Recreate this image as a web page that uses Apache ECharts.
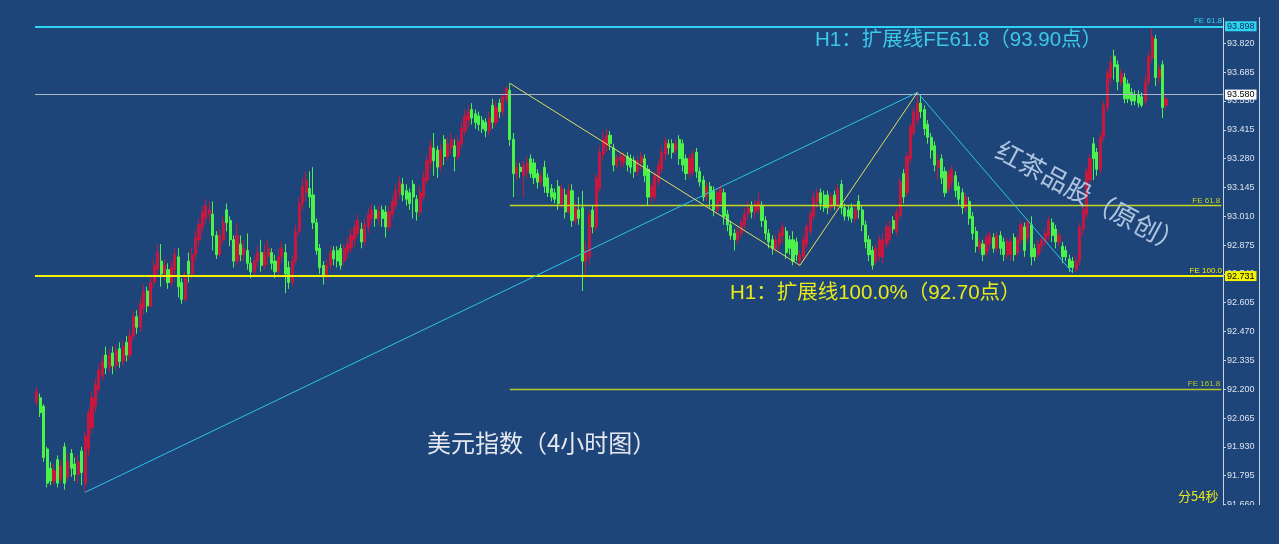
<!DOCTYPE html>
<html><head><meta charset="utf-8">
<script src="https://cdn.jsdelivr.net/npm/echarts@6/dist/echarts.min.js"></script>
<style>html,body{margin:0;padding:0;background:#1e4579;}#c{width:1279px;height:544px;}</style>
</head><body><div id="c"></div>
<script>
// ---- DATA ----
// candles: [open, close, low, high]
const candlesPart1 = [
[92.14,92.19,92.12,92.21],[92.16,92.09,92.07,92.18],[92.12,91.88,91.86,92.13],[91.92,91.76,91.74,91.93],[91.83,91.77,91.75,91.86],
[91.77,91.82,91.75,91.85],[91.87,91.76,91.74,91.89],[91.78,91.84,91.76,91.87],[91.93,91.76,91.73,91.95],[91.79,91.86,91.77,91.90],
[91.90,91.83,91.79,91.92],[91.85,91.80,91.77,91.88],[91.80,91.86,91.76,91.89],[91.91,91.81,91.75,91.93],[91.76,91.98,91.717,92.00],
[91.92,92.09,91.89,92.11],[92.02,92.16,91.99,92.19],[92.12,92.22,92.09,92.25],[92.20,92.29,92.18,92.32],[92.26,92.33,92.24,92.36],
[92.36,92.30,92.27,92.40],[92.30,92.36,92.28,92.39],[92.37,92.31,92.27,92.40],[92.31,92.38,92.29,92.41],[92.39,92.33,92.30,92.42],
[92.33,92.40,92.31,92.43],[92.42,92.36,92.33,92.45],[92.36,92.45,92.34,92.48],[92.45,92.54,92.43,92.57],[92.54,92.49,92.46,92.57],
[92.49,92.60,92.47,92.63],[92.58,92.66,92.55,92.69],[92.66,92.59,92.56,92.68],[92.59,92.70,92.58,92.73],[92.70,92.78,92.67,92.81],
[92.76,92.84,92.73,92.88],[92.80,92.74,92.68,92.88],[92.74,92.78,92.71,92.81],[92.76,92.70,92.67,92.79],[92.70,92.77,92.68,92.80],
[92.76,92.83,92.73,92.86],[92.82,92.68,92.63,92.86],[92.70,92.62,92.60,92.72],[92.62,92.72,92.61,92.75],[92.80,92.74,92.70,92.84],
[92.74,92.83,92.72,92.86],[92.83,92.91,92.80,92.94],[92.90,92.97,92.87,93.00],[92.96,93.03,92.93,93.06],[93.00,93.06,92.97,93.09],
[93.02,93.04,92.98,93.08],[93.02,92.92,92.85,93.08],[92.92,92.83,92.81,92.94],[92.83,92.92,92.82,92.95],[92.90,92.98,92.88,93.01],
[93.04,92.98,92.94,93.07],[92.99,92.90,92.87,93.01],[92.90,92.80,92.77,92.92],[92.80,92.92,92.78,92.98],[92.88,92.83,92.80,92.92],
[92.83,92.86,92.80,92.90],[92.85,92.79,92.76,92.93],[92.79,92.75,92.72,92.82],[92.75,92.80,92.73,92.83],[92.80,92.84,92.77,92.87],
[92.84,92.78,92.75,92.90],[92.78,92.84,92.76,92.88],[92.82,92.86,92.78,92.90],[92.84,92.79,92.76,92.86],[92.80,92.75,92.72,92.83],
[92.75,92.82,92.73,92.86],[92.82,92.86,92.79,92.89],[92.84,92.74,92.65,92.88],[92.77,92.70,92.67,92.80],[92.70,92.80,92.68,92.83],
[92.80,92.94,92.78,92.97],[92.94,93.07,92.92,93.10],[93.07,93.15,93.04,93.19],[93.12,93.18,93.08,93.22],[93.14,93.10,93.05,93.22],
[93.11,92.98,92.95,93.24],[92.98,92.85,92.83,93.00],[92.86,92.77,92.74,92.88],[92.78,92.73,92.69,92.80]
];
const candlesPart2 = [
[92.73,92.78,92.71,92.81],[92.78,92.84,92.76,92.87],[92.85,92.81,92.78,92.87],[92.85,92.80,92.77,92.87],[92.86,92.78,92.76,92.88],
[92.80,92.86,92.78,92.88],[92.84,92.88,92.81,92.91],[92.86,92.92,92.84,92.95],[92.90,92.96,92.87,92.99],[92.93,92.99,92.91,93.02],
[92.95,92.89,92.86,92.98],[92.89,92.97,92.87,93.00],[92.96,93.02,92.93,93.05],[93.00,93.04,92.97,93.07],[93.04,93.00,92.96,93.06],
[93.00,93.03,92.97,93.06],[93.04,93.00,92.96,93.06],[93.03,92.96,92.91,93.06],[92.96,93.03,92.94,93.06],[93.02,93.08,93.00,93.11],
[93.06,93.13,93.04,93.16],[93.12,93.17,93.09,93.20],[93.16,93.11,93.08,93.19],[93.13,93.09,93.06,93.16],[93.12,93.07,93.04,93.14],
[93.16,93.10,93.00,93.18],[93.09,93.03,92.99,93.11],[93.03,93.12,93.01,93.15],[93.10,93.19,93.08,93.22],[93.18,93.27,93.16,93.30],
[93.26,93.34,93.23,93.37],[93.33,93.27,93.20,93.40],[93.32,93.24,93.19,93.34],[93.24,93.32,93.22,93.35],[93.37,93.29,93.25,93.39],
[93.29,93.35,93.27,93.38],[93.33,93.37,93.30,93.40],[93.34,93.29,93.22,93.37],[93.29,93.36,93.27,93.39],[93.35,93.42,93.33,93.45],
[93.41,93.48,93.39,93.51],[93.46,93.50,93.43,93.53],[93.51,93.47,93.44,93.54],[93.49,93.45,93.42,93.51],[93.48,93.44,93.41,93.50],
[93.46,93.42,93.40,93.48],[93.45,93.41,93.38,93.47],[93.41,93.47,93.39,93.50],[93.53,93.45,93.42,93.56],[93.45,93.52,93.43,93.55],
[93.54,93.50,93.47,93.56],[93.50,93.57,93.48,93.59],[93.56,93.61,93.54,93.62],[93.60,93.37,93.34,93.633],[93.37,93.21,93.10,93.40],
[93.21,93.24,93.18,93.27],[93.24,93.22,93.19,93.26],[93.20,93.25,93.10,93.27],[93.22,93.26,93.19,93.29],[93.28,93.21,93.19,93.30],
[93.26,93.19,93.16,93.28],[93.21,93.17,93.14,93.23],[93.17,93.20,93.15,93.22],[93.24,93.15,93.12,93.27],[93.19,93.12,93.10,93.21],
[93.14,93.10,93.08,93.16],[93.12,93.09,93.07,93.14],[93.15,93.07,93.04,93.18],[93.07,93.14,93.05,93.16],[93.11,93.03,93.00,93.14],
[93.03,93.13,93.02,93.16],[93.13,92.99,92.96,93.16],[92.99,93.05,92.97,93.08],[93.04,93.00,92.97,93.10],[93.05,92.80,92.66,93.13],
[92.80,92.85,92.72,92.89]
];
const candlesPart3 = [
[92.82,93.02,92.78,93.04],[93.04,92.96,92.93,93.06],[92.96,93.19,92.94,93.21],[93.14,93.31,93.12,93.34],[93.30,93.37,93.27,93.41],
[93.34,93.39,93.31,93.42],[93.39,93.35,93.32,93.41],[93.33,93.25,93.22,93.35],[93.25,93.28,93.23,93.30],[93.27,93.29,93.24,93.31],
[93.26,93.29,93.24,93.31],[93.29,93.25,93.22,93.31],[93.28,93.24,93.21,93.30],[93.27,93.22,93.19,93.29],[93.22,93.27,93.20,93.29],
[93.26,93.29,93.23,93.31],[93.28,93.20,93.17,93.30],[93.23,93.10,93.06,93.25],[93.10,93.15,93.07,93.17],[93.10,93.20,93.08,93.22],
[93.17,93.25,93.15,93.28],[93.23,93.31,93.21,93.34],[93.30,93.36,93.27,93.38],[93.35,93.33,93.30,93.37],[93.35,93.31,93.28,93.37],
[93.32,93.35,93.30,93.37],[93.37,93.28,93.25,93.39],[93.35,93.25,93.22,93.37],[93.28,93.21,93.18,93.30],[93.21,93.28,93.19,93.30],
[93.22,93.30,93.20,93.32],[93.31,93.22,93.19,93.33],[93.22,93.17,93.15,93.24],[93.18,93.10,93.08,93.20],[93.10,93.15,93.08,93.17],
[93.15,93.09,93.05,93.17],[93.13,93.04,93.01,93.15],[93.04,93.12,93.02,93.14],[93.08,93.14,93.06,93.16],[93.12,93.01,92.97,93.14],
[93.02,92.97,92.94,93.04],[92.97,92.92,92.90,92.99],[92.93,92.90,92.85,92.95],[92.90,92.94,92.88,92.96],[92.93,92.98,92.91,93.00],
[92.97,93.02,92.95,93.05],[93.02,93.05,92.99,93.08],[93.06,93.03,93.00,93.08],[93.03,93.07,93.00,93.09],[93.04,93.08,93.02,93.12],
[93.06,92.99,92.96,93.08],[92.99,92.93,92.90,93.01],[92.93,92.89,92.86,92.95],[92.90,92.86,92.83,92.92],[92.86,92.90,92.84,92.92],
[92.88,92.93,92.85,92.95],[92.92,92.96,92.89,92.98],[92.94,92.84,92.81,92.96],[92.90,92.86,92.83,92.92],[92.90,92.80,92.78,92.94],
[92.89,92.83,92.80,92.91],[92.80,92.83,92.78,92.85],[92.82,92.90,92.80,92.92],[92.88,92.96,92.86,92.98],[92.94,93.02,92.92,93.04],
[93.01,93.10,92.99,93.13],[93.08,93.12,93.05,93.14],[93.12,93.07,93.04,93.14],[93.11,93.05,93.03,93.13],[93.11,93.05,93.02,93.13],
[93.05,93.10,93.03,93.12],[93.11,93.06,93.04,93.13],[93.06,93.14,93.04,93.16],[93.16,93.05,93.02,93.18],[93.05,93.01,92.99,93.07],
[93.04,93.01,92.99,93.06],[93.05,93.00,92.98,93.07],[93.00,93.04,92.98,93.06],[93.08,93.04,93.00,93.11],[93.04,92.97,92.94,93.06],
[92.97,92.89,92.86,92.99],[92.90,92.83,92.80,92.92],[92.85,92.78,92.76,92.87],[92.80,92.86,92.78,92.88],[92.82,92.90,92.80,92.92],
[92.82,92.90,92.79,92.93],[92.88,92.96,92.86,92.98],[92.90,92.96,92.88,92.99],[92.99,92.95,92.93,93.01],[92.94,93.03,92.92,93.05]
];
const candlesPart4 = [
[93.01,93.17,92.99,93.19],[93.21,93.10,93.07,93.23],[93.12,93.29,93.10,93.31],[93.28,93.43,93.26,93.45],[93.40,93.50,93.38,93.52],
[93.46,93.54,93.44,93.59],[93.54,93.50,93.47,93.58],[93.51,93.42,93.39,93.53],[93.44,93.38,93.35,93.46],[93.38,93.32,93.28,93.40],
[93.34,93.25,93.22,93.36],[93.24,93.27,93.18,93.30],[93.28,93.19,93.16,93.30],[93.22,93.12,93.10,93.24],[93.14,93.21,93.12,93.23],
[93.17,93.23,93.14,93.25],[93.20,93.13,93.10,93.22],[93.15,93.09,93.06,93.17],[93.12,93.05,93.02,93.14],[93.05,93.10,93.03,93.12],
[93.08,93.00,92.97,93.10],[93.01,92.93,92.90,93.03],[92.94,92.87,92.84,92.96],[92.86,92.89,92.84,92.91],[92.88,92.83,92.80,92.90],
[92.84,92.91,92.82,92.93],[92.88,92.92,92.85,92.94],[92.91,92.86,92.84,92.93],[92.86,92.92,92.84,92.94],[92.92,92.86,92.83,92.94],
[92.89,92.83,92.80,92.91],[92.83,92.89,92.81,92.91],[92.83,92.89,92.80,92.91],[92.91,92.83,92.80,92.93],[92.84,92.90,92.82,92.92],
[92.90,92.97,92.88,92.99],[92.96,92.85,92.82,92.98],[92.91,92.98,92.89,93.00],[92.97,92.82,92.78,93.01],[92.86,92.82,92.80,92.88],
[92.83,92.88,92.81,92.90],[92.87,92.90,92.84,92.92],[92.89,92.93,92.87,92.95],[92.92,92.99,92.90,93.01],[92.98,92.92,92.89,93.00],
[92.95,92.89,92.86,92.97],[92.89,92.92,92.87,92.94],[92.87,92.82,92.79,92.89],[92.85,92.82,92.80,92.87],[92.81,92.77,92.75,92.83],
[92.80,92.77,92.745,92.82],[92.76,92.80,92.75,92.83],[92.80,92.96,92.78,92.98],[92.95,93.04,92.92,93.06],[93.02,93.22,93.00,93.24],
[93.18,93.28,93.15,93.30],[93.35,93.28,93.18,93.38],[93.31,93.23,93.20,93.33],[93.23,93.38,93.21,93.40],[93.38,93.53,93.36,93.55],
[93.52,93.68,93.50,93.70],[93.66,93.73,93.63,93.76],[93.76,93.71,93.65,93.79],[93.72,93.64,93.60,93.74],[93.64,93.68,93.62,93.70],
[93.66,93.56,93.54,93.68],[93.63,93.56,93.54,93.65],[93.59,93.55,93.53,93.61],[93.58,93.55,93.53,93.60],[93.58,93.54,93.52,93.60],
[93.57,93.53,93.52,93.59],[93.55,93.64,93.53,93.67],[93.64,93.76,93.62,93.78],[93.75,93.85,93.73,93.89],[93.84,93.66,93.62,93.86],
[93.66,93.70,93.63,93.72],[93.72,93.52,93.47,93.74],[93.53,93.56,93.51,93.58]
];
// price-axis tick labels
const tickValues = [93.820,93.685,93.550,93.415,93.280,93.145,93.010,92.875,92.740,92.605,92.470,92.335,92.200,92.065,91.930,91.795,91.660];
// horizontal levels
const levelValues = [93.898, 93.580, 92.731, 93.061, 92.200];
const levelTags   = ['FE 61.8', '', 'FE 100.0', 'FE 61.8', 'FE 161.8'];
const levelBoxes  = ['93.898', '93.580', '92.731', '', ''];
const feStartIndex = 137;          // partial FE lines start at the swing high bar
// swing lines: [bar index, price]
const cyanWave   = [[14, 91.717], [255, 93.59], [300, 92.745]];
const yellowWave = [[137, 93.633], [221, 92.78], [255, 93.59]];
const totalSlots = 344;            // bars + empty space to the right
// texts
const titleCyan   = 'H1：扩展线FE61.8（93.90点）';
const titleYellow = 'H1：扩展线100.0%（92.70点）';
const chartName   = '美元指数（4小时图）';
const watermark   = '红茶品股（原创）';
const timerText   = '分54秒';

// ---- BUILD ----
const BG = '#1e4579';
const candles = [].concat(candlesPart1, candlesPart2, candlesPart3, candlesPart4);
const categories = Array.from({length: totalSlots}, (_, i) => String(i));
const lastSlot = categories[totalSlots - 1];

const levelStyle = [
  {color:'#2fd4f2', width:2, box:'#2fd4f2', boxText:'#0a2a55'},
  {color:'#aeb6c6', width:1, box:'#ffffff', boxText:'#000000'},
  {color:'#f4f400', width:2, box:'#f4f400', boxText:'#000000'},
  {color:'#c8d81c', width:1.3},
  {color:'#b8c82a', width:1.3}
];

const mlData = [];
levelValues.forEach((v, k) => {
  const st = levelStyle[k];
  const partial = k >= 3;
  const ls = {color: st.color, width: st.width, type: 'solid', opacity: 1};
  const mk = (label) => partial
    ? [{coord:[categories[feStartIndex], v], lineStyle: ls, label},
       {coord:[lastSlot, v], lineStyle: ls}]
    : {yAxis: v, lineStyle: ls, label};
  if (levelTags[k]) {
    mlData.push(mk({show:true, position:'insideEndTop', distance:[1,1], formatter: levelTags[k],
      color: st.color, fontSize: 8, fontFamily:'Liberation Sans'}));
  }
  if (levelBoxes[k]) {
    mlData.push(mk({show:true, position:'end', distance:2, formatter: levelBoxes[k],
      color: st.boxText, backgroundColor: st.box, fontSize: 9, padding:[1,2,0,2], fontFamily:'Liberation Sans'}));
  }
});
function addWave(pts, color) {
  for (let k = 0; k < pts.length - 1; k++) {
    const ls = {color, width:1, type:'solid', opacity: 1};
    mlData.push([
      {coord:[categories[pts[k][0]], pts[k][1]], lineStyle: ls, label:{show:false}},
      {coord:[categories[pts[k+1][0]], pts[k+1][1]], lineStyle: ls}
    ]);
  }
}
addWave(cyanWave, '#2cc4e6');
addWave(yellowWave, '#dede60');

const chart = echarts.init(document.getElementById('c'), null, {renderer:'canvas'});
chart.setOption({
  backgroundColor: BG,
  animation: false,
  textStyle: {fontFamily: '"Noto Sans CJK SC", "Liberation Sans", sans-serif'},
  grid: {left: 35, right: 56, top: 18, bottom: 39},
  xAxis: {type:'category', data: categories, show: false, boundaryGap: true},
  yAxis: {
    type:'value', position:'right', min: 91.6577, max: 93.9387, scale: true,
    axisLine: {show:true, lineStyle:{color:'#c9d2e2', width:1}},
    axisTick: {show:true, length:3, customValues: tickValues, lineStyle:{color:'#c9d2e2'}},
    axisLabel: {customValues: tickValues, formatter: v => v.toFixed(3), color:'#dde3ee',
      fontSize: 9, margin: 4, fontFamily:'Liberation Sans'},
    splitLine: {show:false}
  },
  series: [{
    type:'candlestick', data: candles, barWidth: 2.6,
    itemStyle: {color:'#c8173e', color0:'#4cf24c', borderColor:'#c8173e', borderColor0:'#4cf24c', borderWidth:1},
    markLine: {symbol:'none', silent:true, animation:false, data: mlData}
  }],
  graphic: [
    {type:'line', z:50, shape:{x1:1259.5, y1:17, x2:1259.5, y2:505}, style:{stroke:'#c9d2e2', lineWidth:1}},
    {type:'rect', z:100, shape:{x:1224, y:505, width:35, height:20}, style:{fill:BG}},
    {type:'text', z:60, x:815, y:40, style:{text:titleCyan, fill:'#3cc9e8', font:'20.5px "Liberation Sans", "Noto Sans CJK SC"', verticalAlign:'middle'}},
    {type:'text', z:60, x:730, y:293, style:{text:titleYellow, fill:'#eaea1a', font:'20.5px "Liberation Sans", "Noto Sans CJK SC"', verticalAlign:'middle'}},
    {type:'text', z:60, x:427, y:443, style:{text:chartName, fill:'#e6e8f0', font:'24px "Noto Sans CJK SC"', verticalAlign:'middle'}},
    {type:'text', z:60, x:1090, y:197, rotation:-0.49,
      style:{text:watermark, fill:'#aec3de', font:'26px "Noto Sans CJK SC"', align:'center', verticalAlign:'middle',
        shadowColor:'rgba(5,20,45,0.85)', shadowBlur:2, shadowOffsetX:2, shadowOffsetY:2}},
    {type:'text', z:60, x:1178, y:496, style:{text:timerText, fill:'#e6e61a', font:'13px "Noto Sans CJK SC"', verticalAlign:'middle'}}
  ]
});
</script></body></html>
